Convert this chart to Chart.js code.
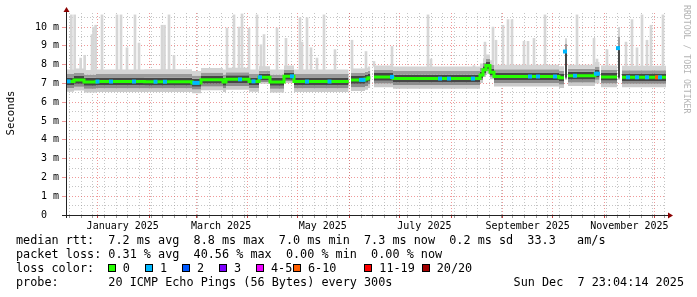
<!DOCTYPE html>
<html>
<head>
<meta charset="utf-8">
<script src="https://cdn.jsdelivr.net/npm/chart.js@4.4.1/dist/chart.umd.min.js"></script>
<style>
  html, body { margin: 0; padding: 0; background: #fff; }
  canvas { display: block; }
</style>
</head>
<body>
<canvas id="canvas" width="697" height="297"></canvas>
<script>
// days counted from the left edge of the graph (360 day window ending Sun Dec 7 23:04:14 2025)
const bpDays   = [0, 4.8, 10.8, 18, 47, 75.6, 81, 94.2, 96, 109.8, 115.8, 122.4, 130.8, 136.8, 169.6, 169.8,
                  171, 179.4, 181.2, 182.6, 182.8, 184.8, 196.2, 248.4, 250.2, 252, 254.4, 256.8, 295.8, 298.8, 299,
                  299.4, 300.6, 300.8, 301.2, 317.4, 320.2, 320.4, 321, 330.6, 330.8, 331.2, 332.4, 332.6, 333.6, 360];
const medianRtt = [7.11, 7.19, 7.08, 7.10, 7.09, 7.03, 7.20, 7.08, 7.22, 7.11, 7.33, 7.08, 7.38, 7.10, 7.10, null,
                  7.19, 7.24, 7.30, 7.30, null, 7.35, 7.26, 7.45, 7.73, 7.95, 7.60, 7.37, 7.30, 7.30, null,
                  8.70, 8.70, null, 7.41, 7.52, 7.52, null, 7.35, 7.35, null, 8.88, 8.88, null, 7.33, 7.33];
const pingLow  = [6.56, 6.62, 6.52, 6.55, 6.54, 6.48, 6.64, 6.54, 6.66, 6.56, 6.98, 6.52, 7.02, 6.55, 6.55, null,
                  6.60, 6.66, 6.76, 6.76, null, 6.80, 6.72, 7.02, 7.35, 7.52, 7.22, 6.84, 6.76, 6.76, null,
                  7.20, 7.20, null, 6.86, 7.00, 7.00, null, 6.80, 6.80, null, 7.20, 7.20, null, 6.80, 6.80];
const ping10   = [6.76, 6.82, 6.72, 6.75, 6.74, 6.68, 6.84, 6.74, 6.86, 6.76, 7.08, 6.72, 7.12, 6.75, 6.75, null,
                  6.80, 6.86, 6.96, 6.96, null, 7.00, 6.92, 7.18, 7.46, 7.66, 7.36, 7.02, 6.95, 6.95, null,
                  7.25, 7.25, null, 7.05, 7.20, 7.20, null, 7.00, 7.00, null, 7.25, 7.25, null, 6.98, 6.98];
const ping30   = [6.92, 6.98, 6.88, 6.90, 6.89, 6.83, 7.00, 6.88, 7.02, 6.92, 7.16, 6.88, 7.20, 6.90, 6.90, null,
                  6.98, 7.04, 7.10, 7.10, null, 7.15, 7.06, 7.27, 7.55, 7.76, 7.44, 7.17, 7.10, 7.10, null,
                  7.30, 7.30, null, 7.21, 7.32, 7.32, null, 7.15, 7.15, null, 7.30, 7.30, null, 7.13, 7.13];
const ping70   = [7.32, 7.40, 7.30, 7.32, 7.31, 7.25, 7.42, 7.30, 7.44, 7.32, 7.52, 7.30, 7.56, 7.32, 7.32, null,
                  7.40, 7.45, 7.50, 7.50, null, 7.56, 7.47, 7.64, 7.92, 8.14, 7.80, 7.58, 7.50, 7.50, null,
                  8.75, 8.75, null, 7.62, 7.72, 7.72, null, 7.56, 7.56, null, 9.00, 9.00, null, 7.53, 7.53];
const ping90   = [7.50, 7.56, 7.48, 7.50, 7.50, 7.42, 7.58, 7.48, 7.60, 7.50, 7.68, 7.48, 7.72, 7.50, 7.50, null,
                  7.56, 7.62, 7.68, 7.68, null, 7.72, 7.66, 7.82, 8.10, 8.30, 8.00, 7.76, 7.68, 7.68, null,
                  9.10, 9.10, null, 7.78, 7.90, 7.90, null, 7.74, 7.74, null, 9.50, 9.50, null, 7.70, 7.70];
const pingHigh = [7.74, 7.80, 7.72, 7.74, 7.76, 7.66, 7.82, 7.74, 7.84, 7.74, 7.92, 7.74, 7.96, 7.74, 7.74, null,
                  7.80, 7.84, 7.90, 7.90, null, 7.96, 7.90, 8.06, 8.34, 8.54, 8.24, 8.00, 7.92, 7.92, null,
                  9.40, 9.40, null, 8.00, 8.14, 8.14, null, 7.96, 7.96, null, 10.00, 10.00, null, 7.94, 7.94];

// single outlier pings sticking out of the smoke
const spikeDays = [3.2, 5.2, 8.8, 11.2, 15.6, 16.5, 17.8, 21.6, 30.6, 33, 36.6, 41.4, 43.8, 57.6, 59.1, 61.8, 64.8,
                   96.6, 100.8, 103.8, 105.6, 109.8, 114.6, 117, 118.8, 126.6, 132, 140.4, 141.6, 144.6, 147, 150.6,
                   154.8, 161.4, 171.6, 180, 184.8, 195.6, 217.2, 219, 244.8, 251.4, 256.2, 258, 262.2, 265.2, 267.6,
                   274.8, 277.2, 280.8, 287.4, 306.6, 316.8, 318.6, 324.6, 336, 339.6, 342.6, 345.6, 348.6, 351, 358.2];
const spikeTops = [10.65, 10.65, 8.35, 8.5, 9.6, 10.0, 10.1, 10.65, 10.65, 10.65, 8.9, 10.65, 9.15, 10.1, 10.1, 10.65, 8.5,
                   9.95, 10.65, 10.0, 10.7, 9.95, 10.65, 9.06, 9.6, 9.95, 9.4, 10.5, 9.2, 10.5, 8.9, 8.35,
                   10.65, 8.8, 9.3, 8.7, 8.17, 8.97, 10.65, 8.3, 7.95, 9.2, 10.0, 9.3, 10.1, 10.4, 10.4,
                   9.24, 9.24, 9.4, 10.65, 10.65, 9.4, 8.3, 8.8, 9.2, 10.4, 8.9, 10.65, 9.3, 10.1, 10.65];

// days where some of the 20 pings were lost, and how many
const lossDays   = [1.5, 18.9, 27, 40.8, 53.7, 59.4, 77, 79, 104.4, 112.5, 116.4, 135.6, 144.6, 158.1, 177, 178.5,
                    195.6, 224.4, 229.8, 244.2, 278.4, 283.2, 293.4, 299.4, 305.4, 318, 319.2, 331.2, 337.2, 342.6,
                    348.6, 354.6, 356.4];
const lossCounts = [1, 1, 1, 1, 1, 1, 1, 1, 1, 1, 1, 1, 1, 1, 1, 1,
                    1, 1, 1, 1, 1, 1, 1, 1, 1, 1, 1, 1, 1, 1,
                    1, 7, 1];

const lossLabels = ['0', '1', '2', '3', '4-5', '6-10', '11-19', '20/20'];
const lossColors = ['#26ff00', '#00b8ff', '#0059ff', '#7e00ff', '#ee00ff', '#ff5e00', '#ff0000', '#a10000'];
const lossLimits = [0, 1, 2, 3, 5, 10, 19, 20];

const monthLabels = ['January 2025', 'March 2025', 'May 2025', 'July 2025', 'September 2025', 'November 2025'];
const labelMonths = [0, 2, 4, 6, 8, 10];

const statLines = [
  'median rtt:  7.2 ms avg  8.8 ms max  7.0 ms min  7.3 ms now  0.2 ms sd  33.3   am/s',
  'packet loss: 0.31 % avg  40.56 % max  0.00 % min  0.00 % now'
];
const probeText = 'probe:       20 ICMP Echo Pings (56 Bytes) every 300s';
const stampText = 'Sun Dec  7 23:04:14 2025';

const startTime = new Date(2024, 11, 12, 23, 4, 14);
const dayOf = (dt) => (dt - startTime) / 86400000;
const MONO = '"DejaVu Sans Mono", monospace';

function stepAt(arr, day) {
  let v = null;
  for (let i = 0; i < bpDays.length && bpDays[i] <= day + 1e-9; i++) {
    if (arr[i] !== null) v = arr[i];
  }
  return v;
}

function lossColor(n) {
  for (let i = 0; i < lossLimits.length; i++) {
    if (n <= lossLimits[i]) return lossColors[i];
  }
  return lossColors[lossColors.length - 1];
}

function series(arr) {
  return bpDays.map((d, i) => ({ x: d, y: arr[i] }));
}

// x ticks: weekly grey lines, monthly red lines, month labels half a month in
function xTicks() {
  const ticks = [];
  for (let t = new Date(2024, 11, 15); dayOf(t) < 360; t = new Date(t.getFullYear(), t.getMonth(), t.getDate() + 7)) {
    ticks.push({ value: dayOf(t), kind: 'week' });
  }
  for (let m = 0; m < 12; m++) {
    ticks.push({ value: dayOf(new Date(2025, m, 1)), kind: 'month' });
  }
  labelMonths.forEach((m, i) => {
    ticks.push({ value: dayOf(new Date(2025, m, 1)) + 15, kind: 'label', name: monthLabels[i] });
  });
  return ticks;
}

const band = (arr, fillTo, color) => ({
  data: series(arr),
  stepped: 'before',
  borderWidth: 0,
  borderColor: 'rgba(0,0,0,0)',
  backgroundColor: color,
  pointRadius: 0,
  fill: fillTo,
  spanGaps: false
});

const decor = {
  id: 'decor',
  afterDraw(chart) {
    const ctx = chart.ctx;
    const a = chart.chartArea;
    ctx.save();

    ctx.strokeStyle = '#222';
    ctx.lineWidth = 1;
    ctx.beginPath();
    ctx.moveTo(a.left - 4, a.bottom + 0.5);
    ctx.lineTo(a.right + 3, a.bottom + 0.5);
    ctx.moveTo(a.left + 0.5, a.bottom + 3);
    ctx.lineTo(a.left + 0.5, a.top - 2);
    ctx.stroke();

    ctx.fillStyle = '#8b0000';
    ctx.beginPath();
    ctx.moveTo(a.left - 2.5, a.top - 1);
    ctx.lineTo(a.left + 3.5, a.top - 1);
    ctx.lineTo(a.left + 0.5, a.top - 6);
    ctx.closePath();
    ctx.fill();
    ctx.beginPath();
    ctx.moveTo(a.right + 2, a.bottom - 2.5);
    ctx.lineTo(a.right + 2, a.bottom + 3.5);
    ctx.lineTo(a.right + 7, a.bottom + 0.5);
    ctx.closePath();
    ctx.fill();

    ctx.fillStyle = '#000';
    ctx.font = '10.7px ' + MONO;
    ctx.textAlign = 'center';
    ctx.textBaseline = 'middle';
    ctx.save();
    ctx.translate(11, 113);
    ctx.rotate(-Math.PI / 2);
    ctx.fillText('Seconds', 0, 0);
    ctx.restore();

    ctx.save();
    ctx.fillStyle = '#b4b4b4';
    ctx.font = '8.2px ' + MONO;
    ctx.textAlign = 'left';
    ctx.translate(686, 5);
    ctx.rotate(Math.PI / 2);
    ctx.fillText('RRDTOOL / TOBI OETIKER', 0, 0);
    ctx.restore();

    ctx.font = '11.8px ' + MONO;
    ctx.textAlign = 'left';
    ctx.fillStyle = '#000';
    ctx.fillText(statLines[0], 16, 241);
    ctx.fillText(statLines[1], 16, 255);
    ctx.fillText('loss color:', 16, 269);
    ctx.fillText(probeText, 16, 283);
    ctx.textAlign = 'right';
    ctx.fillText(stampText, 684, 283);

    const swatchX = [108.5, 145.5, 182.5, 219.5, 256.5, 293.5, 364.5, 422.5];
    const textX = [122.7, 160, 197, 234, 271, 308, 379.3, 436.7];
    ctx.textAlign = 'left';
    lossLabels.forEach((lab, i) => {
      ctx.fillStyle = lossColors[i];
      ctx.fillRect(swatchX[i], 264.5, 7, 7);
      ctx.strokeStyle = '#000';
      ctx.strokeRect(swatchX[i], 264.5, 7, 7);
      ctx.fillStyle = '#000';
      ctx.fillText(lab, textX[i], 269);
    });
    ctx.restore();
  }
};

const majorGrid = 'rgba(225,70,70,0.55)';
const minorGrid = 'rgba(140,140,140,0.5)';

new Chart(document.getElementById('canvas'), {
  type: 'line',
  data: {
    datasets: [
      {
        data: lossDays.map((d) => ({ x: d, y: stepAt(medianRtt, d) })),
        showLine: false,
        pointStyle: 'rect',
        pointRadius: 2.8,
        pointBorderWidth: 0,
        pointBackgroundColor: lossCounts.map(lossColor)
      },
      {
        data: series(medianRtt),
        stepped: 'before',
        borderColor: lossColors[0],
        borderWidth: 3,
        pointRadius: 0,
        fill: false,
        spanGaps: false
      },
      band(pingHigh, false, 'rgba(0,0,0,0)'),
      band(ping90, 2, '#d4d4d4'),
      band(ping70, 3, '#9a9a9a'),
      band(ping30, 4, '#464646'),
      band(ping10, 5, '#8c8c8c'),
      band(pingLow, 6, '#cacaca'),
      {
        type: 'bar',
        data: spikeDays.map((d, i) => ({ x: d, y: [stepAt(pingHigh, d) - 0.05, spikeTops[i]] })),
        backgroundColor: '#d6d6d6',
        borderWidth: 0,
        barThickness: 2
      }
    ]
  },
  options: {
    responsive: false,
    animation: false,
    events: [],
    layout: { padding: { left: 0, right: 31, top: 13, bottom: 0 } },
    plugins: { legend: { display: false }, tooltip: { enabled: false } },
    scales: {
      x: {
        type: 'linear',
        min: 0,
        max: 360,
        offset: false,
        afterBuildTicks: (scale) => { scale.ticks = xTicks(); },
        afterFit: (scale) => { scale.height = 82; },
        ticks: {
          autoSkip: false,
          maxRotation: 0,
          minRotation: 0,
          padding: 2,
          color: '#000',
          font: { family: MONO, size: 10 },
          callback: (v, i, ticks) => (ticks[i] && ticks[i].kind === 'label' ? ticks[i].name : '')
        },
        grid: {
          offset: false,
          tickLength: 3,
          color: (c) => {
            const k = c.tick && c.tick.kind;
            return k === 'month' ? majorGrid : (k === 'week' ? minorGrid : 'rgba(0,0,0,0)');
          },
          tickColor: (c) => {
            const k = c.tick && c.tick.kind;
            return k === 'month' ? '#c04040' : (k === 'week' ? '#999' : 'rgba(0,0,0,0)');
          }
        },
        border: { display: false, dash: [1, 2] }
      },
      y: {
        min: 0,
        max: 10.75,
        afterFit: (scale) => { scale.width = 66; },
        ticks: {
          stepSize: 0.5,
          includeBounds: false,
          autoSkip: false,
          padding: 3,
          color: '#000',
          font: { family: MONO, size: 10 },
          callback: (v) => (Number.isInteger(v) ? (v === 0 ? '0  ' : v + ' m') : '')
        },
        grid: {
          tickLength: 4,
          color: (c) => (c.tick && Number.isInteger(c.tick.value) ? majorGrid : minorGrid),
          tickColor: (c) => (c.tick && Number.isInteger(c.tick.value) ? majorGrid : 'rgba(0,0,0,0)')
        },
        border: { display: false, dash: [1, 2] }
      }
    }
  },
  plugins: [decor]
});
</script>
</body>
</html>
